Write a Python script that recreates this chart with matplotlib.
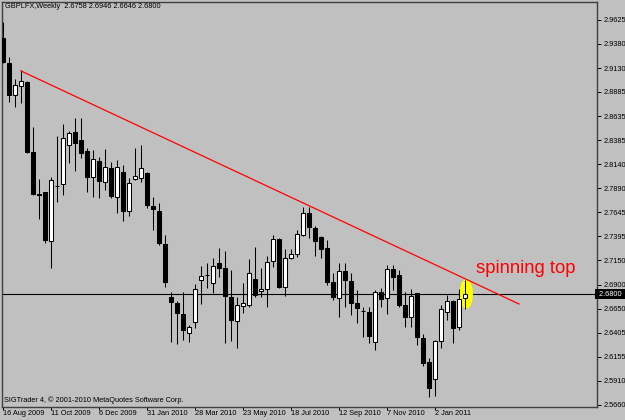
import matplotlib
matplotlib.use('Agg')
import matplotlib.pyplot as plt
from matplotlib.patches import Ellipse

# weekly OHLC, first bar = week of 16 Aug 2009
opens = [2.9440, 2.9182, 2.8853, 2.8945, 2.8986, 2.8265, 2.7833, 2.7853, 2.7349, 2.7915,
         2.7936, 2.8338, 2.8471, 2.8389, 2.8276, 2.8008, 2.8173, 2.7956, 2.8101, 2.7802,
         2.8059, 2.7658, 2.7987, 2.7998, 2.8049, 2.7709, 2.7658, 2.7318, 2.6772, 2.6710,
         2.6597, 2.6401, 2.6514, 2.6947, 2.6999, 2.6916, 2.7122, 2.7071, 2.6772, 2.6525,
         2.6679, 2.6690, 2.6957, 2.6834, 2.6854, 2.7143, 2.7369, 2.6875, 2.7174, 2.7215,
         2.7411, 2.7637, 2.7483, 2.7390, 2.7277, 2.6926, 2.6762, 2.7040, 2.6937, 2.6710,
         2.6628, 2.6617, 2.6308, 2.6823, 2.6762, 2.7060, 2.6999, 2.6690, 2.6566, 2.6813,
         2.6350, 2.6102, 2.5927, 2.6319, 2.6617, 2.6731, 2.6463, 2.6758]
highs = [2.9604, 2.9244, 2.9017, 2.9110, 2.8997, 2.8523, 2.7987, 2.7853, 2.8008, 2.8430,
         2.8554, 2.8482, 2.8616, 2.8616, 2.8307, 2.8286, 2.8214, 2.8296, 2.8162, 2.8183,
         2.8132, 2.7998, 2.8307, 2.8338, 2.8059, 2.7802, 2.7740, 2.7411, 2.6823, 2.6731,
         2.6823, 2.6484, 2.6906, 2.7091, 2.7122, 2.7174, 2.7277, 2.7246, 2.7050, 2.6772,
         2.6916, 2.7163, 2.7287, 2.7071, 2.7194, 2.7411, 2.7380, 2.7266, 2.7266, 2.7462,
         2.7699, 2.7699, 2.7503, 2.7400, 2.7359, 2.7019, 2.7122, 2.7122, 2.7019, 2.6844,
         2.6669, 2.6669, 2.6844, 2.6865, 2.7102, 2.7102, 2.7050, 2.6823, 2.6854, 2.6813,
         2.6391, 2.6144, 2.6329, 2.6690, 2.6793, 2.6741, 2.6854, 2.6946]
lows = [2.9182, 2.8780, 2.8729, 2.8770, 2.8255, 2.7823, 2.7575, 2.7328, 2.7071, 2.7750,
        2.7823, 2.8152, 2.8070, 2.8204, 2.7853, 2.7802, 2.7792, 2.7874, 2.7792, 2.7637,
        2.7555, 2.7606, 2.7977, 2.7956, 2.7689, 2.7462, 2.7308, 2.6875, 2.6308, 2.6288,
        2.6329, 2.6308, 2.6453, 2.6700, 2.6865, 2.6813, 2.6978, 2.6298, 2.6319, 2.6247,
        2.6607, 2.6669, 2.6772, 2.6772, 2.6669, 2.7081, 2.6865, 2.6782, 2.7163, 2.7184,
        2.7400, 2.7380, 2.7194, 2.7174, 2.6896, 2.6741, 2.6566, 2.6669, 2.6587, 2.6504,
        2.6360, 2.6298, 2.6226, 2.6669, 2.6597, 2.6844, 2.6669, 2.6463, 2.6463, 2.6278,
        2.6061, 2.5742, 2.5752, 2.6247, 2.6535, 2.6298, 2.6432, 2.6646]
closes = [2.9192, 2.8853, 2.8956, 2.8997, 2.8265, 2.7833, 2.7823, 2.7359, 2.7977, 2.7913,
          2.8410, 2.8461, 2.8358, 2.8255, 2.8008, 2.8193, 2.7967, 2.8111, 2.7812, 2.8111,
          2.7658, 2.7946, 2.8018, 2.8101, 2.7720, 2.7678, 2.7328, 2.6926, 2.6720, 2.6607,
          2.6432, 2.6463, 2.6854, 2.6988, 2.6997, 2.7091, 2.7071, 2.6782, 2.6535, 2.6690,
          2.6710, 2.7019, 2.6793, 2.6854, 2.7132, 2.7369, 2.6875, 2.7174, 2.7215, 2.7421,
          2.7637, 2.7493, 2.7349, 2.7266, 2.6926, 2.6772, 2.7040, 2.6947, 2.6710, 2.6659,
          2.6626, 2.6370, 2.6823, 2.6751, 2.7060, 2.6978, 2.6690, 2.6566, 2.6782, 2.6360,
          2.6092, 2.5835, 2.6319, 2.6648, 2.6731, 2.6453, 2.6751, 2.6800]

date_labels = ['16 Aug 2009', '11 Oct 2009', '6 Dec 2009', '31 Jan 2010', '28 Mar 2010',
               '23 May 2010', '18 Jul 2010', '12 Sep 2010', '7 Nov 2010', '2 Jan 2011']
price_ticks = [2.9625, 2.9380, 2.9130, 2.8885, 2.8635, 2.8385, 2.8140, 2.7890, 2.7645,
               2.7395, 2.7150, 2.6900, 2.6650, 2.6405, 2.6155, 2.5910, 2.5660]

trend_x = [3.0, 86.0]
trend_y = [2.9100, 2.6700]
last_price = 2.6800

bg = '#c0c0c0'
plt.rcParams['font.family'] = ['Liberation Sans', 'DejaVu Sans']

fig = plt.figure(figsize=(6.25, 4.2), dpi=100, facecolor=bg)
ax = fig.add_axes([2/625, 1 - 407/420, 595/625, 405/420], facecolor=bg)

n = len(opens)
xs = list(range(n))
for i in xs:
    o, h, l, c = opens[i], highs[i], lows[i], closes[i]
    ax.vlines(i, l, h, color='black', lw=0.75, zorder=3)
    body = max(abs(c - o), 0.0005)
    face = 'white' if c > o else 'black'
    ax.bar(i, body, bottom=min(o, c), width=0.6, color=face, edgecolor='black',
           lw=0.75, zorder=4)

ax.axhline(last_price, color='black', lw=0.8, zorder=2)
ax.plot(trend_x, trend_y, color='red', lw=0.9, zorder=5)
ax.add_patch(Ellipse((77.2, 2.6803), 2.0, 0.029, color='yellow', zorder=2.5))
ax.text(78.8, 2.7019, 'spinning top', color='red', fontsize=13.3, va='baseline')

ax.set_xlim(-0.17, 99.0)
ax.set_ylim(2.5639, 2.9810)

ax.set_xticks(xs[::8])
ax.set_xticklabels(date_labels, ha='left', fontsize=5.3)
ax.yaxis.tick_right()
ax.set_yticks(price_ticks)
ax.set_yticklabels(['%.4f' % p for p in price_ticks], fontsize=5.3)
ax.tick_params(axis='x', length=2.5, width=0.7, pad=0)
ax.tick_params(axis='y', length=3, width=0.7, pad=1.5)
for s in ax.spines.values():
    s.set_color('#404040')
    s.set_linewidth(1.0)

ax.text(1.0, last_price, ' 2.6800 ', transform=ax.get_yaxis_transform(),
        color='white', fontsize=5.3, va='center', ha='left',
        bbox=dict(facecolor='black', edgecolor='none', pad=1.2), clip_on=False)

fig.text(5/625, 1 - 7/420, 'GBPLFX,Weekly  2.6758 2.6946 2.6646 2.6800',
         fontsize=5.3, va='center', ha='left')
fig.text(4/625, 1 - 400/420, 'SIGTrader 4, \u00a9 2001-2010 MetaQuotes Software Corp.',
         fontsize=5.3, va='center', ha='left')

fig.savefig('out.png', dpi=100, facecolor=bg)
